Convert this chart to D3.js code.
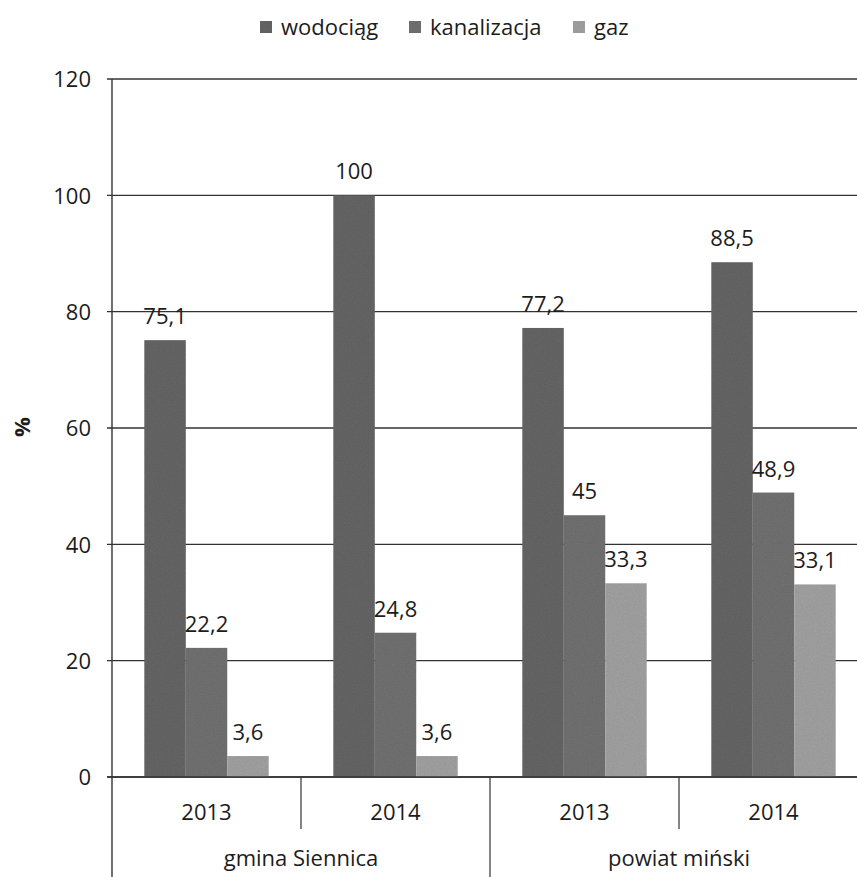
<!DOCTYPE html>
<html>
<head>
<meta charset="utf-8">
<script src="https://cdn.jsdelivr.net/npm/d3@7"></script>
<style>
  html, body { margin: 0; padding: 0; background: #fff; }
  svg { display: block; }
  text { font-family: "Open Sans", "Noto Sans", sans-serif; fill: #1c1c1c; }
</style>
</head>
<body>
<svg id="chart" width="857" height="877"></svg>
<script>
const regions = ["gmina Siennica", "powiat miński"];
const years = ["2013", "2014"];
const seriesNames = ["wodociąg", "kanalizacja", "gaz"];
const wodociag = [75.1, 100, 77.2, 88.5];
const kanalizacja = [22.2, 24.8, 45, 48.9];
const gaz = [3.6, 3.6, 33.3, 33.1];
const yTicks = [0, 20, 40, 60, 80, 100, 120];
const yLabel = "%";

const seriesValues = [wodociag, kanalizacja, gaz];
const colors = ["#686868", "#737373", "#a4a4a4"];
const FS = 22;

const svg = d3.select("#chart");
const W = 857, H = 877;
const mLeft = 112, mRight = 868, mTop = 79, mBottom = 777;

// grain filter for scanned look
const defs = svg.append("defs");
const f = defs.append("filter").attr("id", "grain").attr("x", 0).attr("y", 0).attr("width", 1).attr("height", 1);
f.append("feTurbulence").attr("type", "fractalNoise").attr("baseFrequency", 0.9).attr("numOctaves", 2).attr("seed", 3).attr("result", "noise");
f.append("feColorMatrix").attr("in", "noise").attr("type", "matrix")
  .attr("values", "0 0 0 0 0  0 0 0 0 0  0 0 0 0 0  0 0 0 0.22 0").attr("result", "n2");
f.append("feComposite").attr("in", "n2").attr("in2", "SourceGraphic").attr("operator", "in").attr("result", "n3");
f.append("feMerge").call(m => { m.append("feMergeNode").attr("in", "SourceGraphic"); m.append("feMergeNode").attr("in", "n3"); });

// categories: region x year
const cats = [];
regions.forEach((r, ri) => years.forEach((yy, yi) => cats.push({ region: r, year: yy, key: r + "|" + yy, i: ri * years.length + yi })));

const x0 = d3.scaleBand().domain(cats.map(c => c.key)).range([mLeft, mRight]).paddingInner(0).paddingOuter(0);
const x1 = d3.scaleBand().domain(seriesNames).range([0, x0.bandwidth()]).paddingInner(0).paddingOuter(0.78);
const y = d3.scaleLinear().domain([0, 120]).range([mBottom, mTop]);

// gridlines
svg.append("g").selectAll("line").data(yTicks).join("line")
  .attr("x1", mLeft - 5).attr("x2", W)
  .attr("y1", d => y(d)).attr("y2", d => y(d))
  .attr("stroke", "#333").attr("stroke-width", 1.4);

// y tick labels via axis
const yAxis = d3.axisLeft(y).tickValues(yTicks).tickSize(0).tickPadding(0);
const ga = svg.append("g").attr("transform", `translate(${mLeft - 21},0)`).call(yAxis);
ga.select(".domain").remove();
ga.selectAll("text").attr("font-size", FS).attr("fill", "#1c1c1c")
  .attr("font-family", "'Open Sans', sans-serif").attr("dy", "0.35em");

// bars
const groups = svg.append("g").selectAll("g").data(cats).join("g")
  .attr("transform", d => `translate(${x0(d.key)},0)`);
groups.selectAll("rect").data(c => seriesNames.map((s, si) => ({ s, si, v: seriesValues[si][c.i] }))).join("rect")
  .attr("x", d => x1(d.s)).attr("width", x1.bandwidth())
  .attr("y", d => y(d.v)).attr("height", d => y(0) - y(d.v))
  .attr("fill", d => colors[d.si]).attr("filter", "url(#grain)");

// value labels
groups.selectAll("text.val").data(c => seriesNames.map((s, si) => ({ s, si, v: seriesValues[si][c.i] }))).join("text")
  .attr("class", "val")
  .attr("x", d => x1(d.s) + x1.bandwidth() / 2)
  .attr("y", d => y(d.v) - 16)
  .attr("text-anchor", "middle").attr("font-size", FS)
  .text(d => String(d.v).replace(".", ","));

// y axis line
svg.append("line").attr("x1", mLeft).attr("x2", mLeft).attr("y1", mTop).attr("y2", H)
  .attr("stroke", "#333").attr("stroke-width", 1.4);

// zero line (x axis)
svg.append("line").attr("x1", mLeft - 5).attr("x2", W).attr("y1", y(0)).attr("y2", y(0))
  .attr("stroke", "#333").attr("stroke-width", 1.6);

// category separators
const sepG = svg.append("g");
cats.forEach((c, i) => {
  if (i === 0) return;
  const xx = x0(c.key);
  const long = (i % years.length) === 0;
  sepG.append("line").attr("x1", xx).attr("x2", xx).attr("y1", y(0)).attr("y2", long ? H : y(0) + 52)
    .attr("stroke", "#333").attr("stroke-width", 1.2);
});

// year labels
svg.append("g").selectAll("text").data(cats).join("text")
  .attr("x", d => x0(d.key) + x0.bandwidth() / 2).attr("y", 820)
  .attr("text-anchor", "middle").attr("font-size", FS).text(d => d.year);

// region labels
svg.append("g").selectAll("text").data(regions).join("text")
  .attr("x", r => {
    const a = x0(r + "|" + years[0]);
    const b = x0(r + "|" + years[years.length - 1]) + x0.bandwidth();
    return (a + b) / 2;
  })
  .attr("y", 866).attr("text-anchor", "middle").attr("font-size", FS).text(d => d);

// y axis title
svg.append("text").attr("transform", "translate(30,427) rotate(-90)")
  .attr("text-anchor", "middle").attr("font-size", 22).style("font-weight", "bold").text(yLabel);

// legend
const legendX = [260, 409, 573];
const lg = svg.append("g").selectAll("g").data(seriesNames).join("g")
  .attr("transform", (d, i) => `translate(${legendX[i]},0)`);
lg.append("rect").attr("x", 0).attr("y", 21).attr("width", 12).attr("height", 12)
  .attr("fill", (d, i) => colors[i]).attr("filter", "url(#grain)");
lg.append("text").attr("x", 21).attr("y", 35).attr("font-size", FS).text(d => d);
</script>
</body>
</html>
